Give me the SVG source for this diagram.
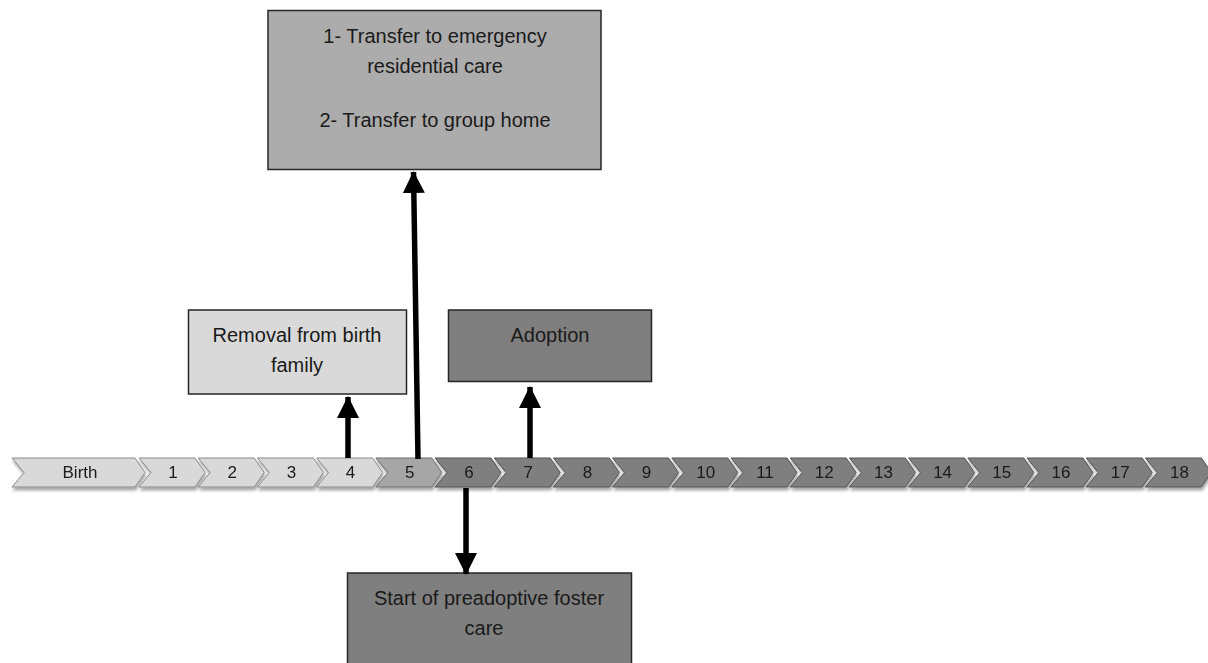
<svg xmlns="http://www.w3.org/2000/svg" xmlns:xlink="http://www.w3.org/1999/xlink" width="1208" height="663" viewBox="0 0 1208 663">
<style>
.box{stroke:#262626;stroke-width:1.5}
.lbl{font-family:"Liberation Sans",Arial,sans-serif;font-size:20px;fill:#1a1a1a;text-anchor:middle}
.num{font-family:"Liberation Sans",Arial,sans-serif;font-size:17px;fill:#1a1a1a;text-anchor:middle}
.light{fill:#d9d9d9;stroke:#8a8a8a;stroke-width:1}
.mid{fill:#a6a6a6;stroke:#6e6e6e;stroke-width:1}
.dark{fill:#7f7f7f;stroke:#555;stroke-width:1}
.conn{stroke:#000;stroke-width:5.5;fill:none}
</style>
<defs>
<filter id="sh" x="-10%" y="-20%" width="120%" height="160%">
<feGaussianBlur in="SourceAlpha" stdDeviation="1.5"/>
<feOffset dx="1" dy="3" result="b"/>
<feComponentTransfer><feFuncA type="linear" slope="0.35"/></feComponentTransfer>
<feMerge><feMergeNode/><feMergeNode in="SourceGraphic"/></feMerge>
</filter>
<path id="chev" d="M0,0 H56 L66,14.5 L56,29 H0 L12,14.5 Z"/>
<marker id="ah" markerUnits="userSpaceOnUse" markerWidth="22" markerHeight="22" viewBox="0 0 22 22" refX="21" refY="11" orient="auto">
<path d="M0,0 L22,11 L0,22 Z" fill="#000"/>
</marker>
</defs>

<g id="timeline" filter="url(#sh)">
<g id="chev-birth"><path class="light" d="M12,458 H135 L145,472.5 L135,487 H12 L24,472.5 Z"/><text class="num" x="80" y="478">Birth</text></g>
<g id="chev-1"><use href="#chev" class="light" x="139" y="458"/><text class="num" x="173" y="478">1</text></g>
<g id="chev-2"><use href="#chev" class="light" x="198.2" y="458"/><text class="num" x="232.2" y="478">2</text></g>
<g id="chev-3"><use href="#chev" class="light" x="257.4" y="458"/><text class="num" x="291.4" y="478">3</text></g>
<g id="chev-4"><use href="#chev" class="light" x="316.6" y="458"/><text class="num" x="350.6" y="478">4</text></g>
<g id="chev-5"><use href="#chev" class="mid" x="375.8" y="458"/><text class="num" x="409.8" y="478">5</text></g>
<g id="chev-6"><use href="#chev" class="dark" x="435" y="458"/><text class="num" x="469" y="478">6</text></g>
<g id="chev-7"><use href="#chev" class="dark" x="494.2" y="458"/><text class="num" x="528.2" y="478">7</text></g>
<g id="chev-8"><use href="#chev" class="dark" x="553.4" y="458"/><text class="num" x="587.4" y="478">8</text></g>
<g id="chev-9"><use href="#chev" class="dark" x="612.6" y="458"/><text class="num" x="646.6" y="478">9</text></g>
<g id="chev-10"><use href="#chev" class="dark" x="671.8" y="458"/><text class="num" x="705.8" y="478">10</text></g>
<g id="chev-11"><use href="#chev" class="dark" x="731" y="458"/><text class="num" x="765" y="478">11</text></g>
<g id="chev-12"><use href="#chev" class="dark" x="790.2" y="458"/><text class="num" x="824.2" y="478">12</text></g>
<g id="chev-13"><use href="#chev" class="dark" x="849.4" y="458"/><text class="num" x="883.4" y="478">13</text></g>
<g id="chev-14"><use href="#chev" class="dark" x="908.6" y="458"/><text class="num" x="942.6" y="478">14</text></g>
<g id="chev-15"><use href="#chev" class="dark" x="967.8" y="458"/><text class="num" x="1001.8" y="478">15</text></g>
<g id="chev-16"><use href="#chev" class="dark" x="1027" y="458"/><text class="num" x="1061" y="478">16</text></g>
<g id="chev-17"><use href="#chev" class="dark" x="1086.2" y="458"/><text class="num" x="1120.2" y="478">17</text></g>
<g id="chev-18"><use href="#chev" class="dark" x="1145.4" y="458"/><text class="num" x="1179.4" y="478">18</text></g>
</g>

<g id="node-transfer">
<rect class="box" x="268" y="10.5" width="333" height="159" fill="#acacac"/>
<text class="lbl" x="435" y="43">1- Transfer to emergency</text>
<text class="lbl" x="435" y="73">residential care</text>
<text class="lbl" x="435" y="127">2- Transfer to group home</text>
</g>
<g id="node-removal">
<rect class="box" x="188.5" y="310" width="218" height="84" fill="#d9d9d9"/>
<text class="lbl" x="297" y="342">Removal from birth</text>
<text class="lbl" x="297" y="372">family</text>
</g>
<g id="node-adoption">
<rect class="box" x="448.5" y="310" width="203" height="71.5" fill="#7f7f7f"/>
<text class="lbl" x="550" y="342">Adoption</text>
</g>
<g id="node-foster">
<rect class="box" x="347.5" y="573" width="284" height="95" fill="#7f7f7f"/>
<text class="lbl" x="489" y="605">Start of preadoptive foster</text>
<text class="lbl" x="484" y="635">care</text>
</g>

<g id="connectors">
<line class="conn" x1="348" y1="458" x2="348" y2="397" marker-end="url(#ah)"/>
<line class="conn" x1="418" y1="459" x2="413.5" y2="172" marker-end="url(#ah)"/>
<line class="conn" x1="530" y1="458" x2="530" y2="387" marker-end="url(#ah)"/>
<line class="conn" x1="466" y1="488" x2="466" y2="574" marker-end="url(#ah)"/>
</g>
</svg>
